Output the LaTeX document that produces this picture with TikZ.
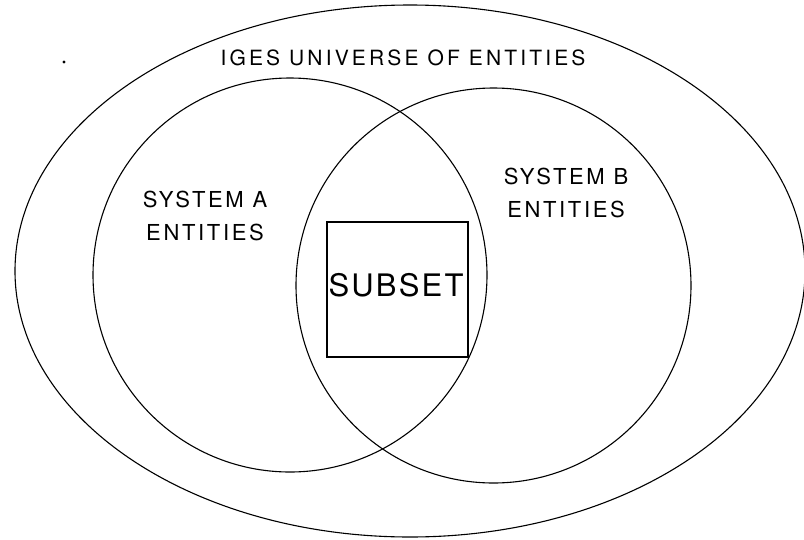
\documentclass[tikz,border=0pt]{standalone}
\usepackage{fontspec}
\setmainfont{TeX Gyre Heros}[LetterSpace=12]
\newfontfamily\titlefont{TeX Gyre Heros}[LetterSpace=15]
\newfontfamily\subsetfont{TeX Gyre Heros}[LetterSpace=7]
\begin{document}
\begin{tikzpicture}[x=1pt,y=-1pt,line width=1.1pt,
    setlabel/.style={font=\fontsize{22}{33}\selectfont,align=center,inner sep=0pt}]
            \useasboundingbox (0,0) rectangle (804,539);
            \draw (410,271) ellipse [x radius=395, y radius=266];
            \draw (290,275) circle (197);
            \draw (493.5,285.5) circle (197.5);
            \draw (327,222) rectangle (468,357);
            \node[setlabel,font=\titlefont\fontsize{21}{25}\selectfont] (universe) at (403,57.5) {IGES UNIVERSE OF ENTITIES};
            \node[setlabel] (systemA) at (205,216) {SYSTEM A\\ENTITIES};
            \node[setlabel] (systemB) at (566,192.5) {SYSTEM B\\ENTITIES};
            \node[inner sep=0pt,font=\subsetfont\fontsize{31}{36}\selectfont] (subset) at (396,285) {SUBSET};
            % stray mark
            \fill (64,62) circle (1.6pt);
        \end{tikzpicture}
\end{document}
